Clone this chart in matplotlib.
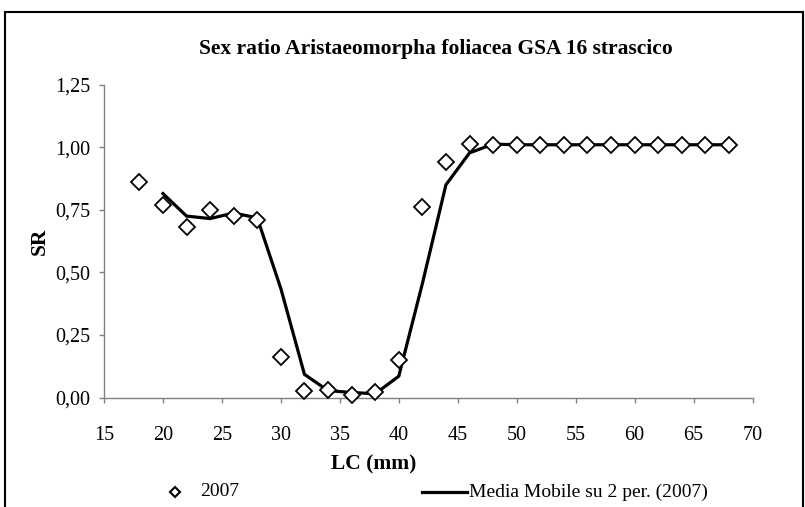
import numpy as np
import matplotlib
matplotlib.use("Agg")
import matplotlib.pyplot as plt
from matplotlib.patches import Rectangle
from matplotlib.lines import Line2D

# Data
lc = [18, 20, 22, 24, 26, 28, 30, 32, 34, 36, 38, 40, 42, 44, 46,
      48, 50, 52, 54, 56, 58, 60, 62, 64, 66, 68]
sr = [0.86, 0.77, 0.68, 0.75, 0.725, 0.71, 0.16, 0.025, 0.03, 0.01, 0.02, 0.15,
      0.76, 0.94, 1.015, 1.01, 1.01, 1.01, 1.01, 1.01, 1.01, 1.01, 1.01, 1.01, 1.01, 1.01]
xticks = [15, 20, 25, 30, 35, 40, 45, 50, 55, 60, 65, 70]
yticks = [0.0, 0.25, 0.5, 0.75, 1.0, 1.25]
ytick_labels = ["0,00", "0,25", "0,50", "0,75", "1,00", "1,25"]
series_label = "2007"
trend_label = "Media Mobile su 2 per. (2007)"

# 2-period moving average (as Excel trendline)
sr_arr = np.array(sr)
ma = (sr_arr[1:] + sr_arr[:-1]) / 2
ma_x = lc[1:]

plt.rcParams['font.family'] = ['Liberation Serif', 'DejaVu Serif']

W, H = 805, 507
fig = plt.figure(figsize=(W / 100, H / 100), dpi=100)
ax = fig.add_axes([104 / W, 1 - 397.5 / H, (752.5 - 104) / W, (397.5 - 84.7) / H])

ax.plot(ma_x, ma, color='black', lw=2.3, zorder=2, solid_joinstyle='miter')
ax.plot(lc, sr, linestyle='none', marker='D', ms=8.2, mfc='white', mec='black',
        mew=1.3, zorder=3, clip_on=False)

ax.set_xlim(15, 70)
ax.set_ylim(0, 1.25)
ax.set_xticks(xticks)
ax.set_xticklabels([str(t) for t in xticks], fontsize=14.5)
ax.set_yticks(yticks)
ax.set_yticklabels(ytick_labels, fontsize=14.5)
ax.tick_params(axis='both', direction='out', length=3.6, width=1, color='#808080')
ax.tick_params(axis='x', pad=17)
ax.tick_params(axis='y', pad=6)
for s in ['top', 'right']:
    ax.spines[s].set_visible(False)
for s in ['left', 'bottom']:
    ax.spines[s].set_color('#808080')
    ax.spines[s].set_linewidth(1)

# Title and axis labels (placed as in the reference)
fig.text(436 / W, 1 - 49 / H, 'Sex ratio Aristaeomorpha foliacea GSA 16 strascico',
         fontsize=15.5, fontweight='bold', ha='center', va='center')
fig.text(374 / W, 1 - 464 / H, 'LC (mm)', fontsize=15.5, fontweight='bold',
         ha='center', va='center')
fig.text(40 / W, 1 - 241 / H, 'SR', fontsize=15.5, fontweight='bold',
         ha='center', va='center', rotation=90)

# Legend (drawn in figure pixels like the reference)
ly = 1 - 492 / H
fig.add_artist(Line2D([175 / W], [ly], linestyle='none', marker='D', ms=5.5,
                      mfc='white', mec='black', mew=1.5, transform=fig.transFigure))
fig.text(200 / W, ly, series_label, fontsize=14, ha='left', va='center')
fig.add_artist(Line2D([422 / W, 467 / W], [ly, ly], color='black', lw=2.3,
                      transform=fig.transFigure))
fig.text(469 / W, ly, trend_label, fontsize=14, ha='left', va='center')

# Chart border (bottom cut off)
fig.patches.append(Rectangle((5 / W, -0.05), (803 - 5) / W, (1 - 12 / H) + 0.05,
                             transform=fig.transFigure, fill=False,
                             edgecolor='black', lw=1.5))

fig.savefig('out.png', dpi=100)
